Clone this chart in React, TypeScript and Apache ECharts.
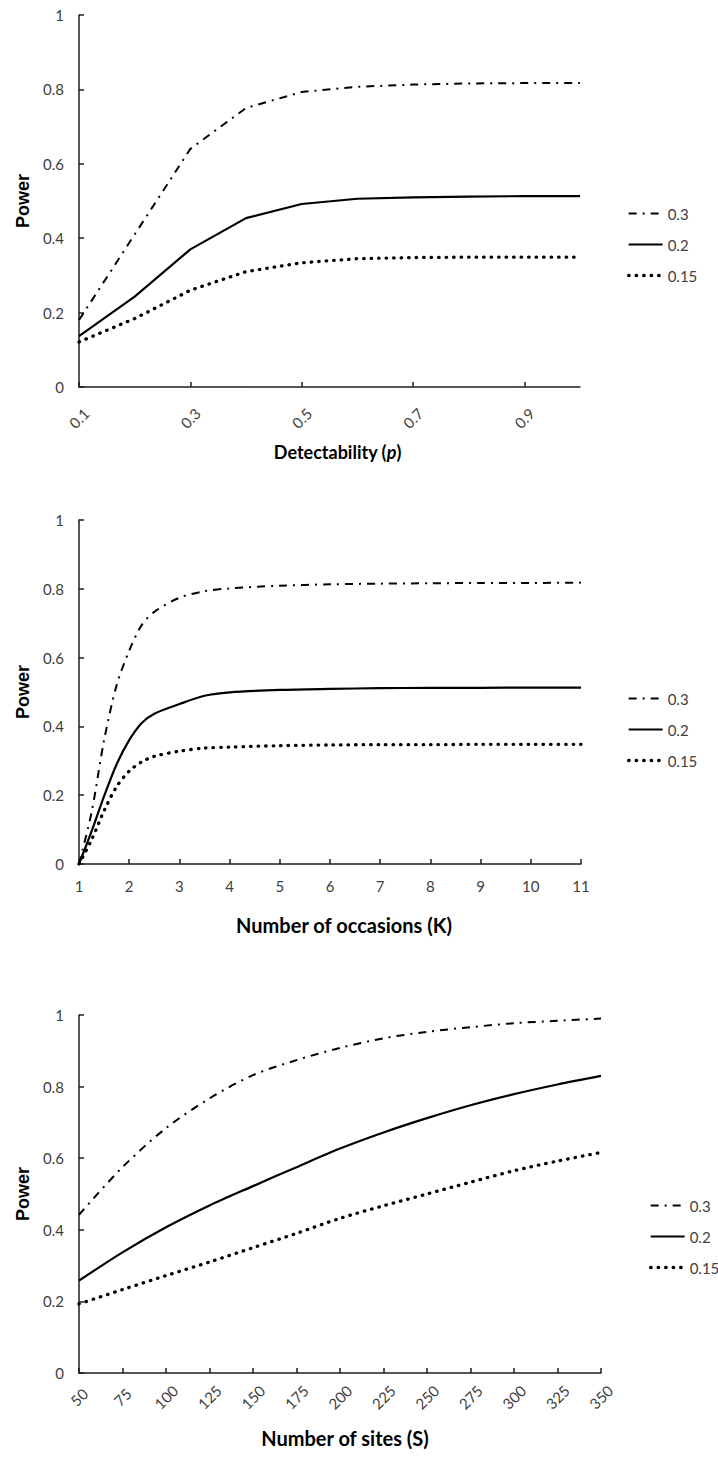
import React, { useEffect, useRef } from "react";
import * as echarts from "echarts";

// ---------- data ----------
const seriesNames = ["0.3", "0.2", "0.15"];

// Panel 1: detectability p
const pValues = ["0.1", "0.2", "0.3", "0.4", "0.5", "0.6", "0.7", "0.8", "0.9", "1"];
const p_03 = [0.18, 0.41, 0.64, 0.75, 0.793, 0.807, 0.813, 0.816, 0.817, 0.817];
const p_02 = [0.137, 0.243, 0.37, 0.454, 0.492, 0.506, 0.51, 0.512, 0.513, 0.513];
const p_015 = [0.121, 0.184, 0.26, 0.31, 0.334, 0.345, 0.348, 0.349, 0.349, 0.349];

// Panel 2: number of occasions K
const kValues = [1, 1.25, 1.5, 1.75, 2, 2.25, 2.5, 3, 3.5, 4, 5, 6, 7, 8, 9, 10, 11];
const k_03 = [0, 0.15, 0.36, 0.52, 0.62, 0.695, 0.733, 0.774, 0.793, 0.801, 0.809, 0.813, 0.815, 0.816, 0.817, 0.817, 0.818];
const k_02 = [0, 0.095, 0.197, 0.29, 0.36, 0.41, 0.437, 0.465, 0.489, 0.499, 0.506, 0.509, 0.511, 0.512, 0.512, 0.513, 0.513];
const k_015 = [0, 0.07, 0.155, 0.225, 0.27, 0.297, 0.313, 0.328, 0.337, 0.34, 0.344, 0.346, 0.347, 0.347, 0.348, 0.348, 0.348];

// Panel 3: number of sites S
const sValues = ["50", "75", "100", "125", "150", "175", "200", "225", "250", "275", "300", "325", "350"];
const s_03 = [0.442, 0.575, 0.684, 0.767, 0.832, 0.874, 0.908, 0.935, 0.953, 0.966, 0.977, 0.984, 0.99];
const s_02 = [0.258, 0.337, 0.407, 0.468, 0.522, 0.575, 0.627, 0.672, 0.712, 0.748, 0.779, 0.806, 0.83];
const s_015 = [0.193, 0.233, 0.272, 0.31, 0.35, 0.39, 0.432, 0.467, 0.5, 0.533, 0.565, 0.592, 0.616];

const yTicks = { min: 0, max: 1, interval: 0.2 };

// ---------- styles ----------
const FONT = "Lato";
const AXIS_COLOR = "#1e1e1e";
const LABEL_COLOR = "#404040";

const lineStyles: any[] = [
  { color: "#000", width: 2, type: [8, 6, 2, 6], cap: "butt" },
  { color: "#000", width: 2.2, type: "solid" },
  { color: "#000", width: 3.3, type: [0.5, 7], cap: "round" },
];

const grids = [
  { left: 79, top: 15, width: 501, height: 372 },
  { left: 79, top: 520, width: 502, height: 344 },
  { left: 79, top: 1015, width: 522, height: 358 },
];

const legendPos = [
  { left: 622, top: 201 },
  { left: 622, top: 686 },
  { left: 644, top: 1193 },
];

export default function App() {
  const ref = useRef<HTMLDivElement>(null);

  useEffect(() => {
    document.body.style.margin = "0";
    if (!ref.current) return;
    const chart = echarts.init(ref.current, undefined, { renderer: "svg" });

    const axisLine = { show: true, lineStyle: { color: AXIS_COLOR, width: 1.5 } };
    const axisTick = { show: true, inside: true, length: 5, lineStyle: { color: AXIS_COLOR, width: 1.5 } };
    const tickLabel = { fontFamily: FONT, fontSize: 15, color: LABEL_COLOR };
    const nameStyle = { fontFamily: FONT, fontWeight: "bold", color: "#000" };

    const yAxes = grids.map((_, i) => ({
      type: "value",
      gridIndex: i,
      ...yTicks,
      name: "Power",
      nameLocation: "middle",
      nameGap: 47,
      nameTextStyle: { fontFamily: "Liberation Sans", fontWeight: "bold", fontSize: 18, color: "#000" },
      axisLine,
      axisTick,
      splitLine: { show: false },
      axisLabel: { ...tickLabel, margin: 15, formatter: (v: number) => String(Math.round(v * 10) / 10) },
    }));

    const xAxes: any[] = [
      {
        type: "category",
        gridIndex: 0,
        data: pValues,
        boundaryGap: false,
        name: "Detectability ({i|p})",
        nameLocation: "middle",
        nameGap: 56,
        nameTextStyle: {
          ...nameStyle,
          fontSize: 18,
          padding: [0, 0, 0, 16],
          rich: { i: { ...nameStyle, fontSize: 18, fontStyle: "italic" } },
        },
        axisLine,
        axisTick: { ...axisTick, interval: 1 },
        axisLabel: { ...tickLabel, interval: 1, rotate: 45, align: "center", verticalAlign: "middle", margin: 31 },
      },
      {
        type: "value",
        gridIndex: 1,
        min: 1,
        max: 11,
        interval: 1,
        name: "Number of occasions (K)",
        nameLocation: "middle",
        nameGap: 51,
        nameTextStyle: { ...nameStyle, fontSize: 20, padding: [0, 0, 0, 28] },
        axisLine,
        axisTick,
        splitLine: { show: false },
        axisLabel: { ...tickLabel, margin: 14 },
      },
      {
        type: "category",
        gridIndex: 2,
        data: sValues,
        boundaryGap: false,
        name: "Number of sites (S)",
        nameLocation: "middle",
        nameGap: 55,
        nameTextStyle: { ...nameStyle, fontSize: 20, padding: [0, 0, 0, 10] },
        axisLine,
        axisTick: { ...axisTick, interval: 0 },
        axisLabel: { ...tickLabel, interval: 0, rotate: 45, align: "center", verticalAlign: "middle", margin: 24 },
      },
    ];

    const mk = (name: string, idx: number, data: any[], styleIdx: number, smooth: any = false) => ({
      type: "line",
      name,
      xAxisIndex: idx,
      yAxisIndex: idx,
      data,
      symbol: "none",
      showSymbol: false,
      smooth,
      lineStyle: lineStyles[styleIdx],
      itemStyle: { color: "#000" },
    });

    const pairs = (xs: number[], ys: number[]) => xs.map((x, i) => [x, ys[i]]);

    const series = [
      mk(seriesNames[0], 0, p_03, 0),
      mk(seriesNames[1], 0, p_02, 1),
      mk(seriesNames[2], 0, p_015, 2),
      mk(seriesNames[0], 1, pairs(kValues, k_03), 0, 0.3),
      mk(seriesNames[1], 1, pairs(kValues, k_02), 1, 0.3),
      mk(seriesNames[2], 1, pairs(kValues, k_015), 2, 0.3),
      mk(seriesNames[0], 2, s_03, 0, 0.3),
      mk(seriesNames[1], 2, s_02, 1, 0.3),
      mk(seriesNames[2], 2, s_015, 2, 0.3),
    ];

    const legends = legendPos.map((pos) => ({
      orient: "vertical",
      left: pos.left,
      top: pos.top,
      itemWidth: 34,
      itemHeight: 14,
      itemGap: 16,
      selectedMode: false,
      data: seriesNames.map((n, i) => ({
        name: n,
        lineStyle: {
          color: "#000",
          width: lineStyles[i].width,
          type: lineStyles[i].type,
          cap: lineStyles[i].cap || "butt",
        },
      })),
      itemStyle: { color: "transparent", borderWidth: 0, opacity: 0 },
      textStyle: { fontFamily: FONT, fontSize: 15, color: LABEL_COLOR },
    }));

    chart.setOption({
      animation: false,
      backgroundColor: "#fff",
      grid: grids,
      xAxis: xAxes,
      yAxis: yAxes,
      legend: legends,
      series,
    });

    return () => chart.dispose();
  }, []);

  return <div ref={ref} style={{ width: 718, height: 1457 }} />;
}
